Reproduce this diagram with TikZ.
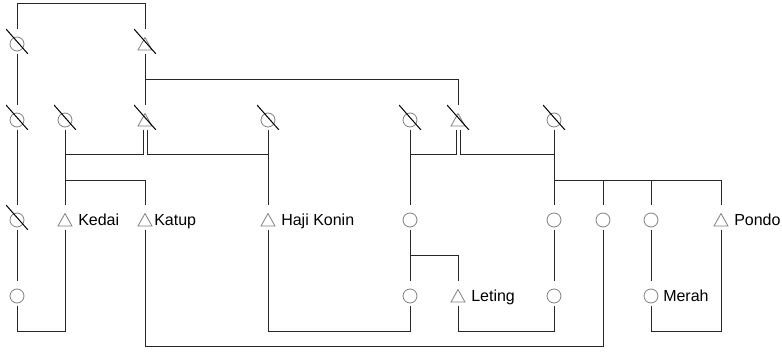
\documentclass[tikz,border=0pt]{standalone}
\usepackage{fontspec}
\setmainfont{Liberation Sans}
\usetikzlibrary{positioning,calc}
\newcommand{\lampmark}{\draw[gray, line width=0.6pt] ([yshift=-1.875pt]path picture bounding box.center) circle (5.25pt);}
\newcommand{\valvemark}{\draw[gray, line width=0.6pt] (path picture bounding box.center) ++(0,-6.4pt) -- ++(5.25pt,0) -- ++(-5.25pt,9.4pt) -- ++(-5.25pt,-9.4pt) -- cycle;}
\newcommand{\cutmark}{\draw[black, line width=0.75pt] (path picture bounding box.north west) -- (path picture bounding box.south east);}
\tikzset{
	cell/.style={rectangle, minimum width=16.5pt, minimum height=18.75pt, inner sep=0pt, outer sep=0pt},
	lamp/.style={cell, path picture={\lampmark}},
	valve/.style={cell, path picture={\valvemark}},
	lampcut/.style={cell, path picture={\lampmark\cutmark}},
	valvecut/.style={cell, path picture={\valvemark\cutmark}},
	tag/.style={anchor=base west, inner sep=0pt, font=\fontsize{12}{14}\selectfont},
	wire/.style={line width=0.75pt, black!85},
}

\begin{document}
\begin{tikzpicture}[on grid]
	\useasboundingbox (0,0) rectangle (586.5pt,-269.25pt);

	% top row
	\node[lampcut] (s1) at (12.75pt,-31.125pt) {};
	\node[valvecut, right=96pt of s1] (v1) {};

	% second row
	\node[lampcut, below=57pt of s1] (s2) {};
	\node[lampcut, right=36pt of s2] (s3) {};
	\node[valvecut, below=57pt of v1] (v2) {};
	\node[lampcut, right=92.25pt of v2] (s4) {};
	\node[lampcut, right=106.5pt of s4] (s5) {};
	\node[valvecut, right=36pt of s5] (v3) {};
	\node[lampcut, right=72pt of v3] (s6) {};

	% third row
	\node[lampcut, below=75pt of s2] (s7) {};
	\node[valve, below=75pt of s3] (kedai) {};
	\node[valve, below=75pt of v2] (katup) {};
	\node[valve, below=75pt of s4] (konin) {};
	\node[lamp, below=75pt of s5] (c1) {};
	\node[lamp, below=75pt of s6] (c2) {};
	\node[lamp, right=36.75pt of c2] (c3) {};
	\node[lamp, right=36pt of c3] (c4) {};
	\node[valve, right=52.5pt of c4] (pondo) {};

	% bottom row
	\node[lamp, below=57pt of s7] (d1) {};
	\node[lamp, below=57pt of c1] (d2) {};
	\node[valve, right=36pt of d2] (leting) {};
	\node[lamp, below=57pt of c2] (d3) {};
	\node[lamp, below=57pt of c4] (merah) {};

	\node[tag] (t1) at ($(kedai.center)+(9.75pt,-6pt)$) {Kedai};
	\node[tag] (t2) at ($(katup.center)+(6.75pt,-6pt)$) {Katup};
	\node[tag] (t3) at ($(konin.center)+(9.75pt,-6pt)$) {Haji Konin};
	\node[tag] (t4) at ($(leting.center)+(9.75pt,-6pt)$) {Leting};
	\node[tag] (t5) at ($(merah.center)+(9pt,-6pt)$) {Merah};
	\node[tag] (t6) at ($(pondo.center)+(9.75pt,-6pt)$) {Pondo};

	% branch points
	\coordinate (j1) at ($(v1.south)!0.5!(v2.north)$);
	\coordinate (b1) at ($(s3.south)!0.333!(kedai.north)$);
	\coordinate (b2) at ($(s3.south)!0.667!(kedai.north)$);
	\coordinate (b3) at ($(s4.south)!0.333!(konin.north)$);
	\coordinate (b4) at ($(s5.south)!0.333!(c1.north)$);
	\coordinate (b5) at ($(s6.south)!0.333!(c2.north)$);
	\coordinate (b6) at ($(s6.south)!0.667!(c2.north)$);
	\coordinate (b7) at ($(c1.south)!0.5!(d2.north)$);

	\begin{scope}[wire]
		\draw (s1.north) -- ++(0,18.75pt) -| (v1.north);
		\draw (s1.south) -- (s2.north);
		\draw (v1.south) -- (v2.north);
		\draw (j1) -| (v3.north);

		\draw (s2.south) -- (s7.north);
		\draw (s3.south) -- (kedai.north);
		\draw (s4.south) -- (konin.north);
		\draw (s5.south) -- (c1.north);
		\draw (s6.south) -- (c2.north);

		\draw ([xshift=-1.5pt]v2.south) |- (b1);
		\draw ([xshift=1.5pt]v2.south) |- (b3);
		\draw ([xshift=-1.5pt]v3.south) |- (b4);
		\draw ([xshift=1.5pt]v3.south) |- (b5);

		\draw (b2) -| (katup.north);
		\draw (b6) -| (c3.north);
		\draw (b6) -| (c4.north);
		\draw (b6) -| (pondo.north);

		\draw (s7.south) -- (d1.north);
		\draw (c1.south) -- (d2.north);
		\draw (c2.south) -- (d3.north);
		\draw (c4.south) -- (merah.north);
		\draw (b7) -| (leting.north);

		\draw (d1.south) -- ++(0,-19.5pt) -| (kedai.south);
		\draw (konin.south) -- ++(0,-76.5pt) -| (d2.south);
		\draw (leting.south) -- ++(0,-19.5pt) -| (d3.south);
		\draw (merah.south) -- ++(0,-19.5pt) -| (pondo.south);
		\draw (katup.south) -- ++(0,-87.75pt) -| (c3.south);
	\end{scope}
\end{tikzpicture}
\end{document}
